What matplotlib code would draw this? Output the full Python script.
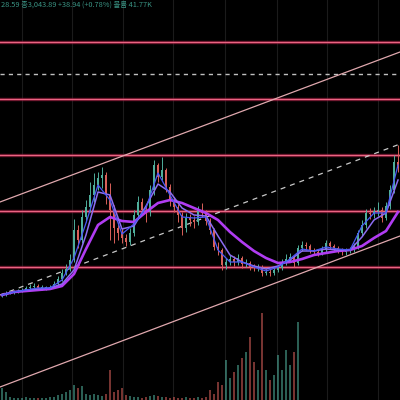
import matplotlib.pyplot as plt
import numpy as np

plt.rcParams['font.family'] = ['Noto Sans CJK KR', 'DejaVu Sans']

# header line of the screenshot
header = "28.59 종3,043.89 +38.94 (+0.78%) 볼륨 41.77K"

# price in chart units (height above the bottom edge), one candle per index
open0 = 104
close = [105, 107, 108, 108, 109, 110, 112, 113, 114, 112,
         112, 112, 113, 116, 121, 127, 131, 140, 170, 160,
         183, 193, 205, 215, 222, 225, 205, 190, 172, 167,
         162, 158, 167, 185, 198, 190, 188, 210, 235, 223,
         230, 213, 200, 193, 185, 172, 182, 180, 178, 190,
         187, 179, 170, 153, 150, 135, 138, 141, 138, 142,
         136, 137, 133, 132, 133, 127, 128, 127, 130, 132,
         138, 141, 143, 137, 152, 155, 154, 150, 148, 147,
         150, 157, 154, 152, 150, 148, 149, 150, 153, 167,
         175, 187, 186, 189, 190, 182, 194, 210, 238, 232]
high = [107, 109, 110, 110, 111, 112, 114, 116, 117, 116,
        115, 114, 115, 119, 124, 131, 136, 146, 181, 175,
        190, 200, 218, 227, 228, 233, 228, 217, 195, 178,
        172, 166, 172, 190, 204, 202, 196, 215, 240, 237,
        243, 232, 216, 203, 196, 188, 187, 186, 184, 194,
        197, 190, 182, 172, 158, 152, 142, 145, 144, 146,
        144, 141, 139, 136, 136, 135, 131, 131, 133, 135,
        141, 146, 147, 145, 155, 159, 158, 156, 152, 151,
        154, 160, 159, 156, 154, 152, 152, 153, 157, 170,
        180, 191, 192, 193, 198, 193, 198, 215, 245, 255]
low = [103, 104, 106, 106, 107, 108, 109, 111, 112, 110,
       110, 110, 111, 112, 115, 119, 125, 129, 138, 152,
       157, 178, 188, 198, 210, 212, 196, 160, 157, 160,
       157, 154, 155, 164, 182, 185, 178, 184, 205, 218,
       220, 208, 194, 188, 178, 165, 168, 174, 172, 175,
       183, 175, 166, 150, 145, 130, 131, 135, 134, 135,
       132, 133, 130, 129, 129, 124, 125, 124, 125, 128,
       130, 135, 138, 133, 135, 149, 150, 147, 145, 144,
       145, 148, 151, 149, 147, 145, 145, 147, 148, 151,
       164, 172, 181, 182, 184, 178, 180, 191, 207, 228]
volume = [12, 8, 3, 2, 2, 2, 3, 2, 2, 2,
          2, 2, 3, 3, 5, 6, 8, 10, 15, 12,
          14, 6, 5, 6, 5, 4, 6, 30, 8, 10,
          12, 5, 4, 3, 3, 2, 3, 4, 5, 4,
          3, 3, 2, 3, 2, 2, 3, 2, 2, 3,
          2, 3, 10, 6, 18, 15, 40, 22, 28, 35,
          42, 48, 63, 38, 30, 87, 30, 20, 25, 45,
          30, 50, 35, 48, 78, 0, 0, 0, 0, 0,
          0, 0, 0, 0, 0, 0, 0, 0, 0, 0,
          0, 0, 0, 0, 0, 0, 0, 0, 0, 0]

# moving averages read every third candle
ma_idx = list(range(0, 100, 3))
ma_fast = [105, 108, 110, 112, 112, 120, 142, 177, 215, 200, 166, 176, 192, 227, 205, 183, 182,
           183, 150, 138, 138, 133, 129, 133, 141, 151, 149, 153, 151, 150, 174, 187, 187, 235]
ma_mid = [105, 108, 110, 111, 112, 116, 130, 165, 208, 205, 171, 174, 194, 216, 208, 192, 185,
          184, 164, 145, 138, 134, 131, 134, 140, 149, 149, 151, 150, 150, 163, 180, 187, 220]
ma_slow = [105, 108, 109, 110, 111, 114, 126, 151, 175, 183, 179, 178, 188, 197, 200, 197, 192,
           187, 180, 168, 158, 149, 142, 137, 138, 141, 145, 147, 149, 150, 154, 162, 169, 188]

# drawn levels and channel
levels = [358, 301, 245, 189, 133]
dashed_level = 326
chan_x = [-0.5, 99.5]
chan_upper = [198, 348]
chan_mid = [105, 256]
chan_lower = [13, 164]
grid_idx = [5, 17.5, 30.25, 42.75, 55.75, 68.75, 81.25, 94]

up_col = '#4fae9b'
dn_col = '#d9605a'

fig = plt.figure(figsize=(4, 4), dpi=100, facecolor='black')
ax_v = fig.add_axes([0, 0, 1, 1])
ax = fig.add_axes([0, 0, 1, 1])
ax.patch.set_visible(False)
ax_v.set_facecolor('black')

x = np.arange(len(close))
opens = [open0] + close[:-1]
cols = [up_col if c >= o else dn_col for o, c in zip(opens, close)]

# volume
ax_v.bar(x, volume, width=0.3, color=cols, alpha=0.55)
ax_v.set_ylim(0, 400)
ax_v.set_xlim(-0.5, 99.5)
for g in grid_idx:
    ax_v.axvline(g, color='#1b1b1b', lw=0.8, zorder=0)
ax_v.axis('off')

# levels
for lv in levels:
    ax.axhline(lv, color='#a82448', lw=2.4, alpha=0.65, zorder=2)
    ax.axhline(lv, color='#ea6482', lw=0.8, zorder=2)
ax.axhline(dashed_level, color='#c0c0c0', lw=1.0, ls=(0, (3, 3)), zorder=2)

# channel
ax.plot(chan_x, chan_upper, color='#e0a8ae', lw=0.9, zorder=2)
ax.plot(chan_x, chan_lower, color='#e0a8ae', lw=0.9, zorder=2)
ax.plot(chan_x, chan_mid, color='#c8c8c8', lw=0.9, ls=(0, (4, 4)), zorder=2)

# candles
ax.vlines(x, low, high, colors=cols, lw=0.7, zorder=3)
body_lo = [min(o, c) for o, c in zip(opens, close)]
body_h = [max(abs(c - o), 0.8) for o, c in zip(opens, close)]
ax.bar(x, body_h, bottom=body_lo, width=0.6, color=cols, zorder=3)

# moving averages
ax.plot(ma_idx, ma_slow, color='#b03cf2', lw=1.9, zorder=4)
ax.plot(ma_idx, ma_mid, color='#8c6cf2', lw=1.1, zorder=4)
ax.plot(ma_idx, ma_fast, color='#4a58f5', lw=0.9, zorder=4)

ax.set_xlim(-0.5, 99.5)
ax.set_ylim(0, 400)
ax.axis('off')

fig.text(0.002, 0.999, header, color='#3a9484', fontsize=5.3, va='top', ha='left')

fig.savefig('out.png', dpi=100, facecolor='black')
